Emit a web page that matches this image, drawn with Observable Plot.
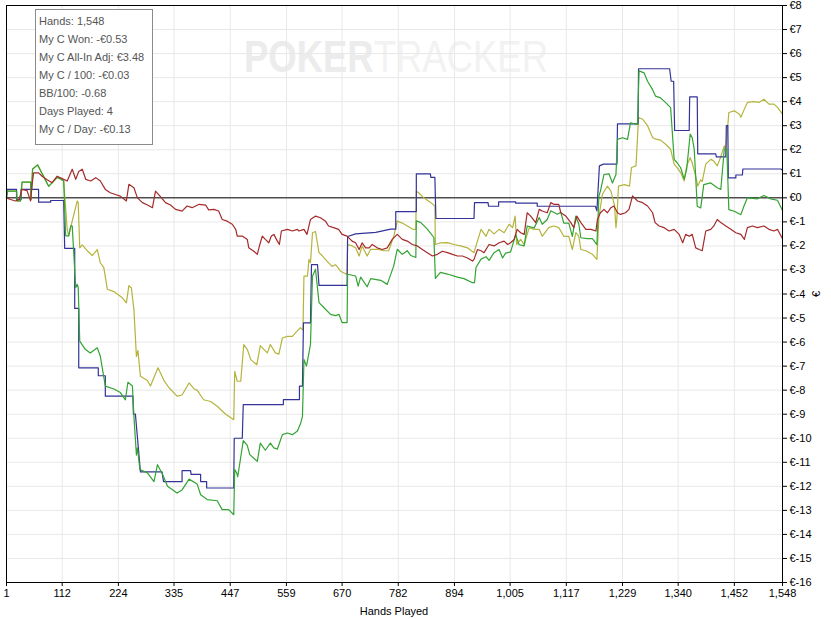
<!DOCTYPE html>
<html><head><meta charset="utf-8">
<script src="https://cdn.jsdelivr.net/npm/d3@7"></script>
<script src="https://cdn.jsdelivr.net/npm/@observablehq/plot@0.6"></script>
<style>html,body{margin:0;padding:0;overflow:hidden;background:#fff}</style>
</head><body><div id="chart"></div>
<script>
const xTicks = [1,112,224,335,447,559,670,782,894,1005,1117,1229,1340,1452,1548];
const yTicks = d3.range(-16, 9);
const statLines = ["Hands: 1,548","My C Won: -€0.53","My C All-In Adj: €3.48","My C / 100: -€0.03","BB/100: -0.68","Days Played: 4","My C / Day: -€0.13"];
const seriesNames = ["All-In Adj","Showdown","Won","Non-Showdown"];
const seriesColors = ["#b4b43c","#333399","#33a333","#a52a2a"];

const allInAdj = [[1,0],[3,0.28],[21,0.28],[22,-0.13],[29,-0.13],[32,0.65],[49,0.65],[50,-0.06],[53,1.2],[63,1.37],[85,0.48],[102,0.85],[109,0.78],[115,0.7],[122,-1.3],[125,-1.58],[132,-0.97],[142,-0.13],[144,-0.2],[147,-2.08],[152,-1.96],[162,-2.2],[172,-2.4],[182,-2.15],[188,-2.7],[195,-2.9],[202,-3.8],[215,-3.9],[232,-4.16],[240,-4.37],[245,-3.65],[250,-3.75],[255,-4.65],[260,-6.6],[263,-6.35],[268,-7.42],[282,-7.6],[288,-7.83],[303,-7.07],[315,-7.6],[325,-7.9],[341,-8.25],[351,-8.2],[365,-7.7],[375,-7.95],[381,-8.0],[394,-8.4],[408,-8.47],[421,-8.67],[438,-9.0],[454,-9.23],[456,-7.22],[461,-7.63],[468,-7.63],[474,-6.1],[481,-6.3],[488,-6.73],[500,-6.94],[507,-6.15],[514,-6.3],[521,-6.45],[527,-6.1],[537,-6.45],[544,-6.5],[551,-5.83],[561,-5.76],[571,-5.76],[577,-5.62],[587,-5.4],[592,-5.5],[594,-3.26],[601,-3.26],[604,-2.56],[607,-2.7],[611,-1.45],[617,-1.4],[624,-2.28],[630,-2.4],[640,-2.63],[650,-2.85],[657,-2.78],[667,-3.05],[680,-3.19],[681,-1.94],[690,-2.0],[697,-2.08],[704,-2.42],[710,-2.0],[720,-2.42],[727,-2.14],[740,-2.14],[753,-2.2],[763,-2.2],[773,-1.6],[780,-0.97],[790,-1.05],[800,-1.17],[810,-1.3],[817,-1.31],[818,0.28],[823,0.2],[833,0.0],[847,-0.2],[855,-0.34],[856,-1.94],[866,-1.87],[880,-1.86],[893,-1.94],[906,-2.0],[920,-2.08],[933,-2.28],[937,-2.0],[947,-1.31],[957,-1.6],[963,-1.31],[973,-1.5],[983,-1.31],[993,-1.45],[1003,-1.1],[1010,-1.24],[1015,-0.76],[1018,-1.94],[1026,-1.73],[1033,-1.94],[1043,-1.24],[1053,-1.31],[1063,-1.31],[1069,-1.6],[1082,-1.24],[1092,-1.17],[1102,-1.24],[1112,-1.6],[1122,-1.6],[1129,-2.15],[1136,-1.45],[1142,-1.6],[1146,-2.15],[1156,-2.2],[1169,-2.35],[1178,-2.56],[1182,-0.8],[1189,0.15],[1199,0.49],[1206,0.28],[1213,-0.3],[1216,-1.24],[1218,-0.8],[1221,0.49],[1233,0.55],[1243,0.49],[1247,1.26],[1256,1.33],[1261,3.34],[1269,3.27],[1279,3.0],[1289,2.51],[1295,2.44],[1305,2.4],[1315,2.23],[1325,2.02],[1332,1.4],[1338,1.26],[1345,1.05],[1352,0.7],[1357,1.33],[1364,1.67],[1368,1.45],[1375,0.9],[1379,0.49],[1385,0.75],[1388,0.68],[1395,1.4],[1405,1.6],[1411,1.53],[1418,1.33],[1423,1.6],[1432,2.16],[1435,2.0],[1441,3.55],[1452,3.62],[1462,3.48],[1465,3.35],[1472,3.69],[1478,3.97],[1491,4.0],[1501,3.97],[1511,4.1],[1521,3.9],[1531,3.9],[1538,3.76],[1548,3.48]];

const showdown = [[1,0],[2,0.35],[21,0.35],[21,-0.07],[30,-0.07],[30,0.35],[65,0.35],[65,-0.18],[89,-0.18],[89,-0.11],[115,-0.11],[117,-2.1],[137,-2.1],[137,-4.6],[145,-4.6],[145,-7.07],[184,-7.07],[184,-7.4],[198,-7.4],[198,-8.25],[253,-8.25],[254,-9.0],[258,-9.0],[268,-11.4],[311,-11.4],[314,-11.8],[351,-11.8],[351,-11.35],[368,-11.35],[369,-11.5],[388,-11.5],[388,-11.8],[400,-11.8],[400,-12.07],[454,-12.07],[455,-10.0],[471,-10.0],[473,-8.6],[553,-8.6],[553,-8.39],[585,-8.39],[585,-7.83],[591,-7.83],[593,-5.2],[607,-5.2],[609,-2.78],[621,-2.78],[624,-3.64],[680,-3.64],[681,-1.61],[697,-1.5],[737,-1.44],[767,-1.3],[777,-1.3],[777,-0.57],[818,-0.57],[818,1.0],[846,1.0],[847,0.85],[855,0.85],[857,-0.86],[933,-0.86],[934,-0.2],[961,-0.2],[962,-0.35],[982,-0.35],[982,-0.17],[1016,-0.17],[1016,-0.22],[1059,-0.22],[1059,-0.35],[1175,-0.35],[1178,-0.54],[1183,1.33],[1191,1.4],[1218,1.4],[1219,3.08],[1260,3.08],[1261,5.37],[1323,5.37],[1326,4.85],[1331,4.85],[1333,2.8],[1362,2.8],[1363,4.2],[1378,4.2],[1379,1.83],[1415,1.83],[1416,1.7],[1435,1.7],[1436,3.0],[1439,3.0],[1440,0.83],[1455,0.83],[1455,0.95],[1468,0.95],[1469,1.2],[1545,1.2],[1548,1.15]];

const won = [[1,0],[3,0.28],[21,0.28],[22,-0.13],[29,-0.13],[32,0.65],[49,0.65],[50,-0.06],[53,1.2],[63,1.37],[85,0.48],[102,0.85],[109,0.78],[115,0.7],[119,-1.58],[125,-1.58],[129,-1.17],[132,-1.17],[139,-3.73],[142,-3.6],[144,-3.73],[147,-5.96],[158,-6.3],[168,-6.45],[182,-6.24],[188,-6.58],[198,-7.83],[215,-7.95],[228,-8.1],[238,-8.4],[243,-7.67],[252,-7.83],[255,-9.08],[260,-10.7],[262,-10.4],[267,-11.3],[282,-11.44],[295,-11.8],[302,-11.1],[312,-11.5],[322,-12.0],[341,-12.28],[351,-12.15],[365,-11.7],[381,-11.9],[388,-12.35],[401,-12.55],[421,-12.6],[431,-12.97],[444,-12.97],[454,-13.18],[456,-11.3],[460,-11.45],[462,-11.6],[473,-10.1],[481,-10.3],[486,-10.68],[501,-10.96],[507,-10.2],[517,-10.5],[527,-10.2],[534,-10.4],[541,-10.45],[551,-9.85],[561,-9.78],[571,-9.85],[581,-9.7],[587,-9.4],[591,-9.1],[594,-6.72],[599,-7.0],[604,-6.44],[607,-6.1],[611,-3.26],[617,-2.97],[624,-4.36],[634,-4.57],[647,-4.85],[657,-4.9],[664,-4.85],[670,-5.19],[680,-5.19],[681,-3.18],[697,-3.25],[702,-3.67],[707,-3.3],[720,-3.7],[727,-3.36],[747,-3.43],[760,-3.6],[773,-2.83],[780,-2.14],[790,-2.35],[800,-2.2],[807,-2.4],[817,-2.48],[818,-0.96],[827,-1.03],[840,-1.3],[853,-1.65],[856,-3.35],[866,-3.1],[880,-3.17],[900,-3.3],[913,-3.36],[930,-3.53],[934,-3.53],[937,-2.9],[947,-2.55],[957,-2.45],[963,-2.6],[973,-2.28],[983,-2.15],[990,-2.5],[996,-2.3],[1006,-2.25],[1016,-1.53],[1023,-1.95],[1033,-2.0],[1039,-1.17],[1053,-1.25],[1063,-0.82],[1069,-1.1],[1079,-0.9],[1086,-0.54],[1099,-0.68],[1106,-0.6],[1112,-1.05],[1122,-1.05],[1129,-1.6],[1136,-0.76],[1142,-1.1],[1146,-1.66],[1159,-1.7],[1169,-1.7],[1178,-1.95],[1182,0.07],[1185,0.28],[1192,0.97],[1202,1.0],[1209,0.62],[1216,0.97],[1219,2.43],[1229,2.5],[1239,2.43],[1245,3.12],[1259,3.05],[1262,5.28],[1272,5.2],[1279,4.85],[1289,4.5],[1295,4.23],[1305,4.16],[1315,3.96],[1325,3.75],[1332,1.6],[1338,1.46],[1345,1.25],[1352,0.78],[1357,1.2],[1364,2.65],[1368,2.5],[1372,2.03],[1378,-0.35],[1385,-0.42],[1391,0.55],[1405,0.62],[1418,0.42],[1425,0.35],[1432,2.03],[1437,2.03],[1441,-0.49],[1452,-0.56],[1465,-0.7],[1471,-0.35],[1478,0.0],[1498,-0.04],[1511,0.1],[1524,-0.04],[1538,-0.1],[1548,-0.53]];

const nonShowdown = [[1,0],[9,-0.07],[19,-0.13],[26,-0.07],[32,0.35],[42,0.3],[49,-0.13],[52,0.55],[55,1.04],[65,1.04],[72,0.9],[82,0.75],[92,0.63],[102,0.9],[112,0.8],[122,0.7],[132,1.19],[139,0.77],[145,1.1],[152,1.19],[159,0.77],[169,0.7],[179,0.84],[188,0.7],[198,0.35],[208,0.21],[218,0.14],[228,0.07],[240,-0.13],[245,0.56],[255,0.42],[262,0.0],[272,-0.2],[282,-0.3],[292,-0.41],[298,0.28],[307,0.07],[318,-0.2],[328,-0.3],[338,-0.48],[351,-0.55],[361,-0.34],[371,-0.41],[385,-0.27],[398,-0.3],[404,-0.5],[414,-0.48],[424,-0.55],[431,-0.9],[441,-0.97],[451,-1.1],[458,-1.31],[461,-1.59],[471,-1.59],[481,-1.73],[484,-2.08],[494,-2.22],[501,-2.35],[506,-1.94],[511,-1.59],[517,-1.73],[524,-1.87],[529,-1.59],[534,-1.52],[541,-1.8],[545,-1.94],[549,-1.38],[561,-1.31],[571,-1.38],[581,-1.31],[584,-1.38],[594,-1.31],[600,-1.52],[607,-0.9],[617,-0.76],[627,-0.83],[637,-0.97],[643,-1.17],[653,-1.24],[663,-1.31],[670,-1.52],[680,-1.59],[690,-1.8],[697,-1.87],[704,-2.15],[710,-1.87],[717,-2.08],[724,-2.08],[730,-1.94],[740,-2.08],[750,-2.15],[760,-2.08],[770,-1.73],[780,-1.52],[790,-1.73],[800,-1.8],[810,-1.94],[820,-2.0],[830,-2.15],[840,-2.28],[850,-2.42],[860,-2.35],[870,-2.22],[880,-2.28],[890,-2.35],[900,-2.42],[910,-2.42],[920,-2.5],[930,-2.63],[933,-2.56],[940,-2.15],[947,-2.2],[953,-2.28],[963,-1.94],[973,-2.0],[983,-1.87],[993,-1.8],[1000,-1.94],[1006,-1.87],[1013,-1.73],[1019,-1.31],[1026,-1.45],[1033,-1.52],[1039,-0.62],[1046,-0.76],[1056,-1.03],[1063,-0.48],[1069,-0.55],[1079,-0.62],[1086,-0.2],[1092,-0.27],[1102,-0.27],[1106,-0.62],[1116,-0.76],[1126,-1.03],[1132,-1.24],[1138,-0.76],[1146,-1.03],[1156,-1.31],[1166,-1.31],[1176,-1.38],[1179,-0.9],[1185,-0.62],[1192,-0.48],[1199,-0.62],[1206,-0.41],[1212,-0.34],[1219,-0.62],[1225,-0.69],[1235,-0.62],[1242,-0.48],[1249,0.08],[1259,-0.13],[1269,-0.2],[1279,-0.34],[1289,-0.62],[1294,-1.03],[1302,-1.17],[1312,-1.24],[1322,-1.38],[1332,-1.31],[1342,-1.52],[1349,-1.87],[1355,-1.52],[1362,-1.6],[1368,-1.52],[1375,-2.08],[1382,-2.15],[1388,-2.2],[1395,-1.38],[1405,-1.31],[1411,-1.17],[1418,-0.9],[1425,-1.03],[1435,-1.17],[1445,-1.31],[1455,-1.45],[1465,-1.52],[1472,-1.73],[1478,-1.24],[1488,-1.17],[1498,-1.24],[1511,-1.17],[1521,-1.31],[1531,-1.38],[1538,-1.31],[1548,-1.7]];

const rows = [];
[allInAdj, showdown, won, nonShowdown].forEach((s, i) =>
  s.forEach(([h, v]) => rows.push({series: seriesNames[i], hand: h, value: v})));

const plot = Plot.plot({
  width: 831, height: 619,
  marginTop: 5, marginLeft: 6, marginRight: 49, marginBottom: 37,
  style: {fontFamily: "'Liberation Sans', Arial, sans-serif", fontSize: "11px", color: "#000", background: "#fff"},
  x: {domain: [1, 1548]},
  y: {domain: [-16, 8]},
  color: {domain: seriesNames, range: seriesColors},
  marks: [
    Plot.gridX(xTicks, {stroke: "#e8e8e8", strokeOpacity: 1}),
    Plot.gridY(yTicks, {stroke: "#e8e8e8", strokeOpacity: 1}),
    Plot.ruleY([0], {stroke: "#000", strokeWidth: 1}),
    Plot.lineY(rows, {x: "hand", y: "value", z: "series", stroke: "series", strokeWidth: 1.2}),
    Plot.frame({stroke: "#000"}),
    Plot.axisX({ticks: xTicks, tickFormat: d3.format(","), tickSize: 4, tickPadding: 3, label: null}),
    Plot.axisY({anchor: "right", ticks: yTicks, tickFormat: d => "€" + d, tickSize: 4, tickPadding: 3, label: null})
  ]
});
document.getElementById("chart").appendChild(plot);

const svg = d3.select(plot);
// watermark beneath the marks (one text, two styled runs)
const wm = svg.insert("text", "g").attr("font-family", "'Liberation Sans', Arial, sans-serif")
  .attr("text-anchor", "start").attr("x", 244).attr("y", 72).attr("font-size", 44)
  .attr("textLength", 304).attr("lengthAdjust", "spacingAndGlyphs");
wm.append("tspan").attr("font-weight", "bold").attr("fill", "#ececec").text("POKER");
wm.append("tspan").attr("fill", "#f2f2f2").text("TRACKER");

// axis titles
svg.append("text").attr("x", 394).attr("y", 615).attr("text-anchor", "middle").attr("font-size", 11).text("Hands Played");
svg.append("text").attr("transform", "translate(820,294) rotate(-90)").attr("text-anchor", "middle").attr("font-size", 11).text("€");

// stats box
const box = svg.append("g").attr("text-anchor", "start");
box.append("rect").attr("x", 35.5).attr("y", 9.5).attr("width", 117).attr("height", 135)
  .attr("fill", "#fff").attr("stroke", "#8a8a8a");
box.selectAll("text.stat").data(statLines).join("text").attr("class", "stat")
  .attr("x", 39).attr("y", (d, i) => 24.5 + i * 18).attr("font-size", 11).attr("fill", "#555").text(d => d);
</script>
</body></html>
